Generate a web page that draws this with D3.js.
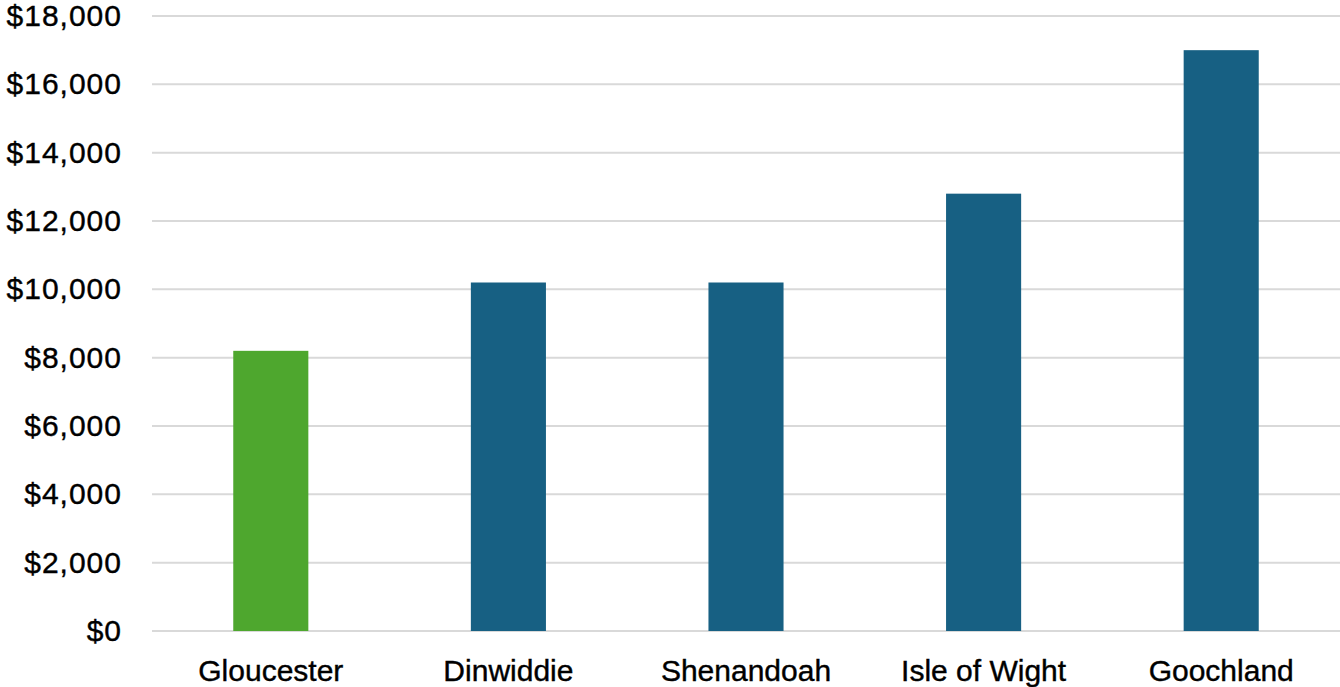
<!DOCTYPE html>
<html>
<head>
<meta charset="utf-8">
<script src="https://cdn.jsdelivr.net/npm/d3@7"></script>
<style>
  html, body { margin: 0; padding: 0; background: #fff; }
  svg text { font-family: "Liberation Sans", Arial, sans-serif; fill: #000; }
</style>
</head>
<body>
<svg id="chart" width="1340" height="687"></svg>
<script>
// Cost per county
const counties = ["Gloucester", "Dinwiddie", "Shenandoah", "Isle of Wight", "Goochland"];
const costs = [8200, 10200, 10200, 12800, 17000];
const barColors = ["#4ea72e", "#176083", "#176083", "#176083", "#176083"];
const yTicks = [0, 2000, 4000, 6000, 8000, 10000, 12000, 14000, 16000, 18000];

const width = 1340, height = 687;
const margin = { top: 16, right: 0, bottom: 56, left: 152 };

const svg = d3.select("#chart");

const x = d3.scaleBand()
  .domain(counties)
  .range([margin.left, width - margin.right])
  .paddingInner(0.684)
  .paddingOuter(0.342);

const y = d3.scaleLinear()
  .domain([0, 18000])
  .range([height - margin.bottom, margin.top]);

// Horizontal gridlines
svg.append("g")
  .selectAll("line")
  .data(yTicks)
  .join("line")
  .attr("x1", margin.left)
  .attr("x2", width - margin.right)
  .attr("y1", d => y(d))
  .attr("y2", d => y(d))
  .attr("stroke", "#d9d9d9")
  .attr("stroke-width", 2);

// Y axis labels
const yAxis = d3.axisLeft(y)
  .tickValues(yTicks)
  .tickSize(0)
  .tickPadding(30)
  .tickFormat(d => "$" + d3.format(",")(d));

svg.append("g")
  .attr("transform", `translate(${margin.left},0)`)
  .call(yAxis)
  .call(g => g.select(".domain").remove())
  .call(g => g.selectAll("text")
    .attr("font-size", 30)
    .attr("letter-spacing", 1)
    .attr("font-family", "Liberation Sans, Arial, sans-serif")
    .attr("fill", "#000")
    .attr("stroke", "#000")
    .attr("stroke-width", 0.4));

// Bars
svg.append("g")
  .selectAll("rect")
  .data(counties)
  .join("rect")
  .attr("x", d => x(d))
  .attr("width", x.bandwidth())
  .attr("y", (d, i) => y(costs[i]))
  .attr("height", (d, i) => y(0) - y(costs[i]))
  .attr("fill", (d, i) => barColors[i]);

// X axis labels
const xAxis = d3.axisBottom(x).tickSize(0).tickPadding(29);
svg.append("g")
  .attr("transform", `translate(0,${y(0)})`)
  .call(xAxis)
  .call(g => g.select(".domain").remove())
  .call(g => g.selectAll("text")
    .attr("font-size", 30)
    .attr("font-family", "Liberation Sans, Arial, sans-serif")
    .attr("fill", "#000")
    .attr("stroke", "#000")
    .attr("stroke-width", 0.4));
</script>
</body>
</html>
